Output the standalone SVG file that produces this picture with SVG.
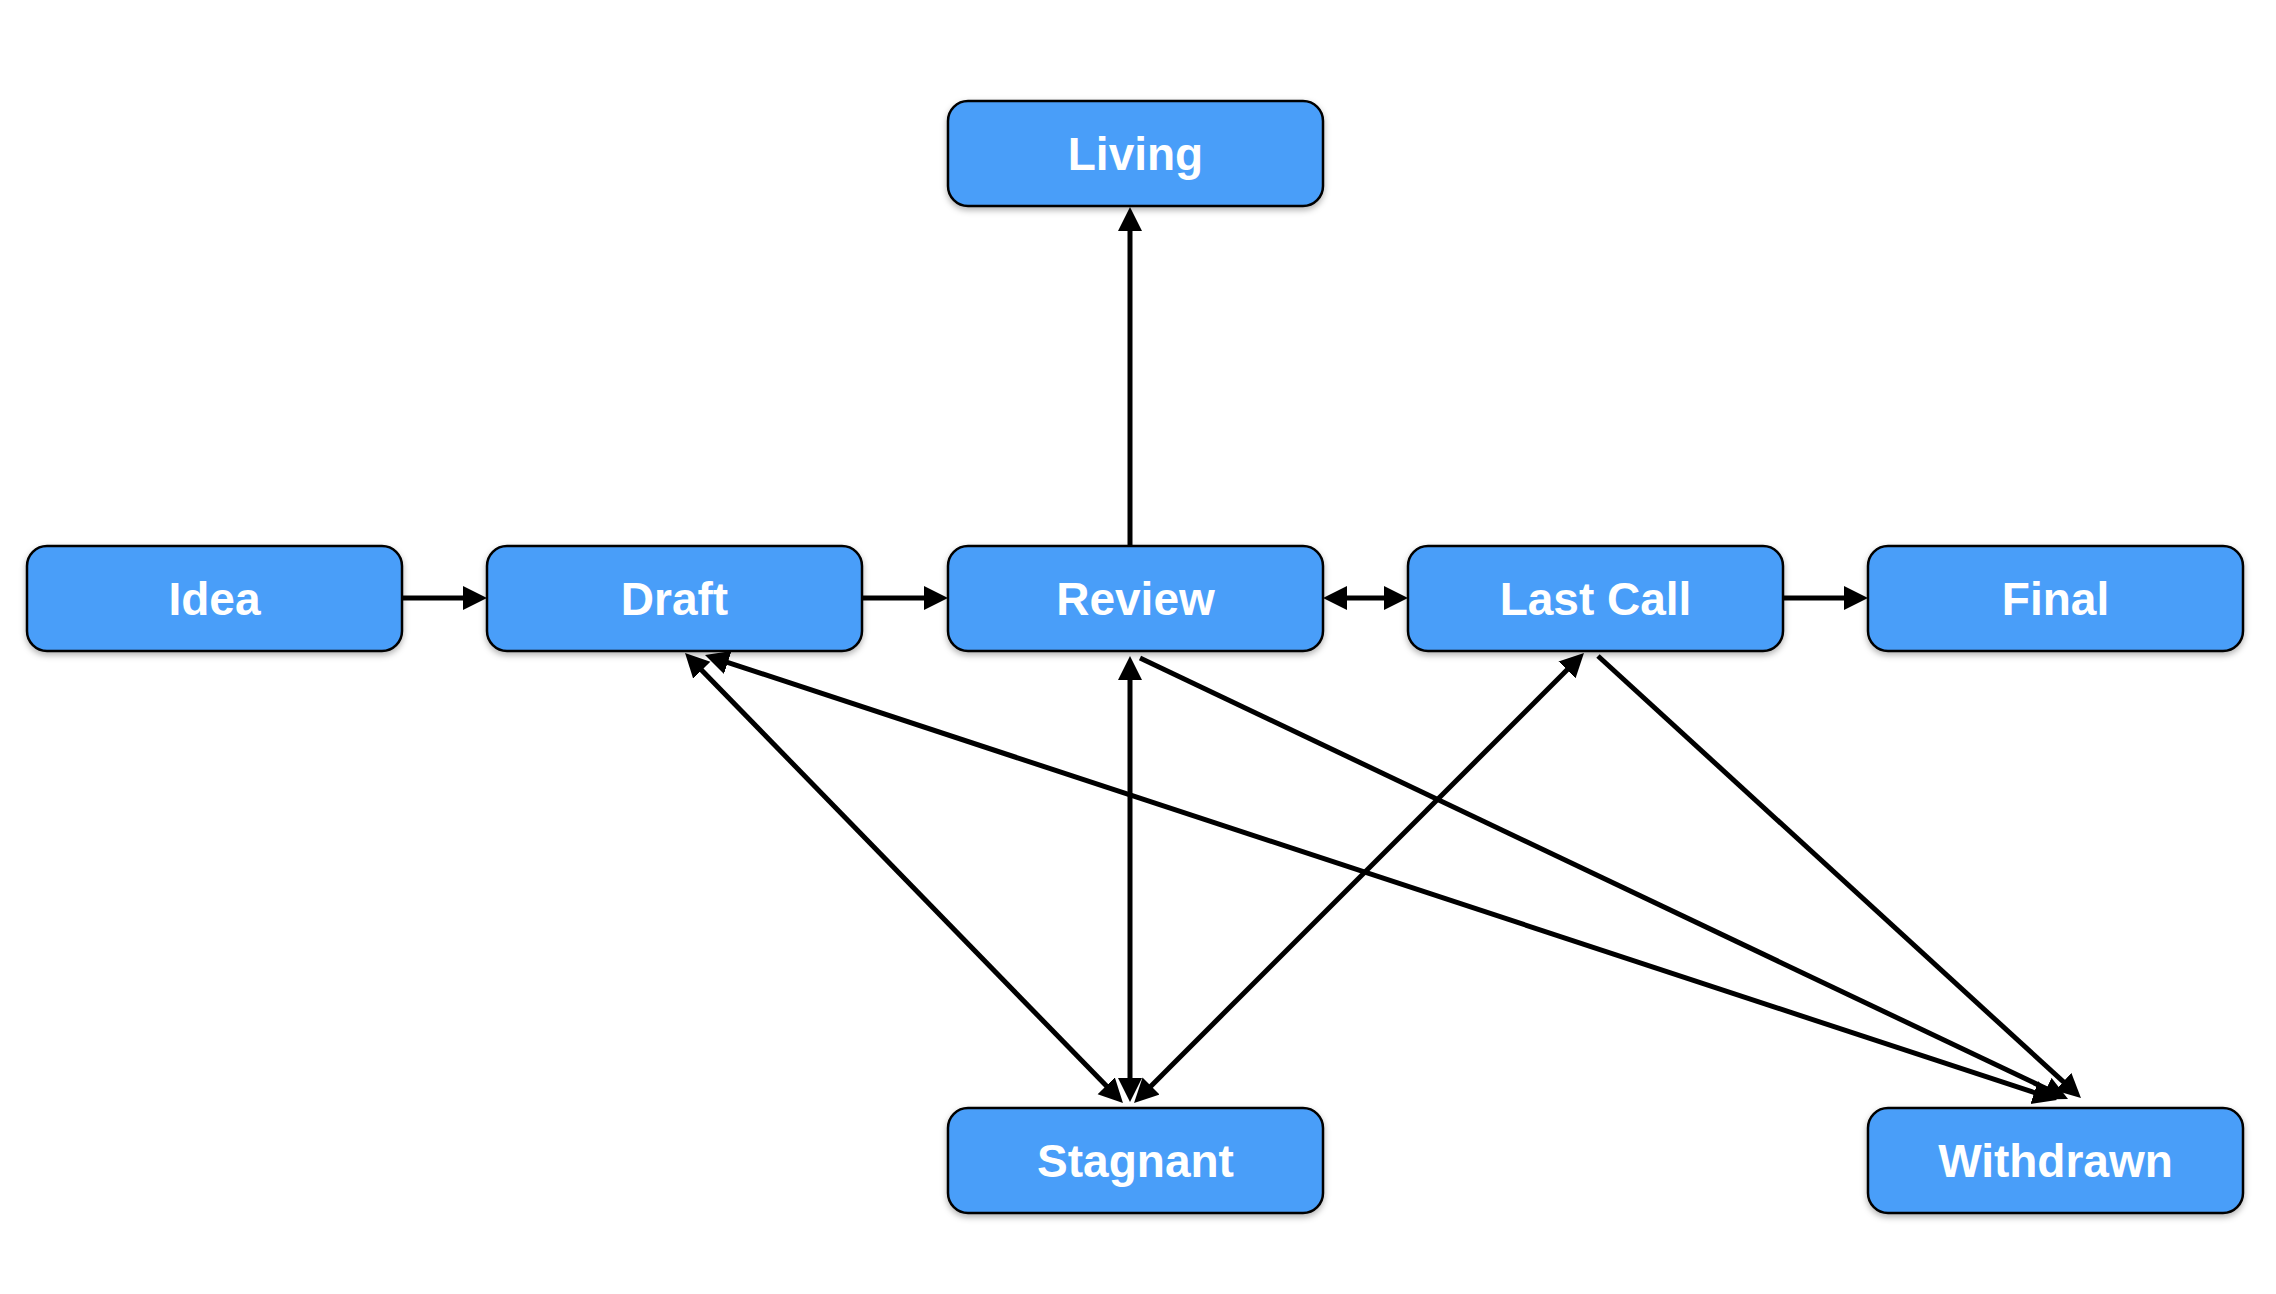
<svg xmlns="http://www.w3.org/2000/svg" width="2276" height="1294" viewBox="0 0 2276 1294">
<defs>
<style>
.box{fill:#4A9EF9;stroke:#000;stroke-width:2.5;filter:url(#sh)}
.lbl{font-family:"Liberation Sans",Arial,sans-serif;font-weight:bold;font-size:46px;fill:#fff;text-anchor:middle}
.c{stroke:#000;stroke-width:5;fill:none}
.e{marker-end:url(#ah)}
.b{marker-start:url(#ah);marker-end:url(#ah)}
</style>
<filter id="sh" x="-10%" y="-20%" width="120%" height="150%">
<feDropShadow dx="0" dy="3" stdDeviation="3" flood-color="#000" flood-opacity="0.3"/>
</filter>
<marker id="ah" markerUnits="userSpaceOnUse" markerWidth="26" markerHeight="26" refX="14" refY="12" orient="auto-start-reverse" viewBox="0 0 26 26">
<path d="M0,0 L24,12 L0,24 z" fill="#000"/>
</marker>
</defs>
<rect width="2276" height="1294" fill="#fff"/>
<g id="connectors">
<line class="c e" x1="402" y1="598" x2="477" y2="598"/>
<line class="c e" x1="862" y1="598" x2="938" y2="598"/>
<line class="c b" x1="1333" y1="598" x2="1398" y2="598"/>
<line class="c e" x1="1783" y1="598" x2="1858" y2="598"/>
<line class="c e" x1="1130" y1="546" x2="1130" y2="217"/>
<line class="c b" x1="1130" y1="666" x2="1130" y2="1092"/>
<line class="c b" x1="692" y1="660.2" x2="1116" y2="1095.8"/>
<line class="c b" x1="714.5" y1="658.1" x2="2047.5" y2="1096.9"/>
<line class="c e" x1="1140" y1="658" x2="2059" y2="1094.7"/>
<line class="c e" x1="1598" y1="656" x2="2073.6" y2="1091.2"/>
<line class="c b" x1="1576.9" y1="660.1" x2="1141.1" y2="1095.9"/>
</g>
<g id="living"><rect class="box" x="948" y="101" width="375" height="105" rx="20"/><text class="lbl" x="1135.5" y="170">Living</text></g>
<g id="idea"><rect class="box" x="27" y="546" width="375" height="105" rx="20"/><text class="lbl" x="214.5" y="615">Idea</text></g>
<g id="draft"><rect class="box" x="487" y="546" width="375" height="105" rx="20"/><text class="lbl" x="674.5" y="615">Draft</text></g>
<g id="review"><rect class="box" x="948" y="546" width="375" height="105" rx="20"/><text class="lbl" x="1135.5" y="615">Review</text></g>
<g id="lastcall"><rect class="box" x="1408" y="546" width="375" height="105" rx="20"/><text class="lbl" x="1595.5" y="615">Last Call</text></g>
<g id="final"><rect class="box" x="1868" y="546" width="375" height="105" rx="20"/><text class="lbl" x="2055.5" y="615">Final</text></g>
<g id="stagnant"><rect class="box" x="948" y="1108" width="375" height="105" rx="20"/><text class="lbl" x="1135.5" y="1177">Stagnant</text></g>
<g id="withdrawn"><rect class="box" x="1868" y="1108" width="375" height="105" rx="20"/><text class="lbl" x="2055.5" y="1177">Withdrawn</text></g>
</svg>
